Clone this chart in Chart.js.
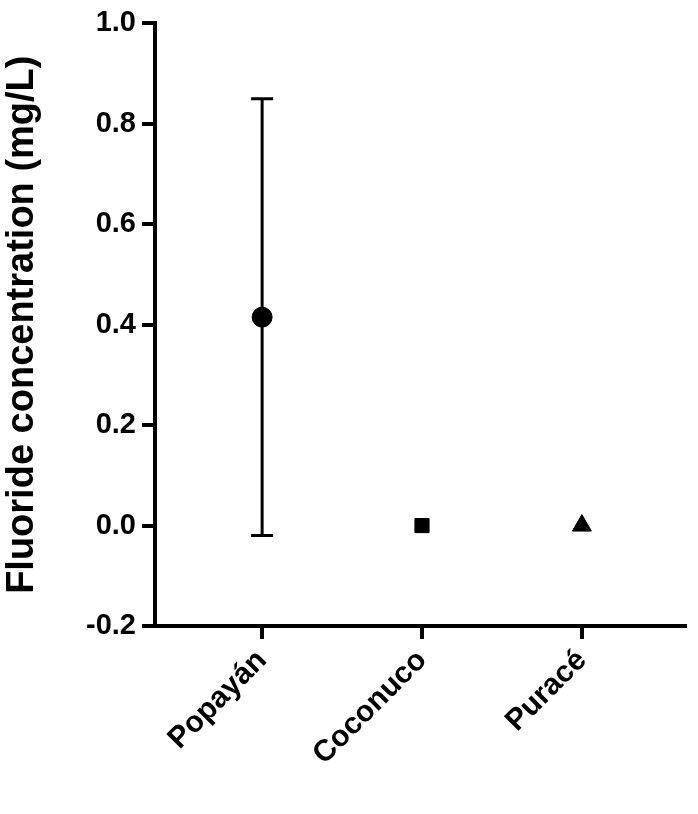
<!DOCTYPE html>
<html><head><meta charset="utf-8">
<script src="https://cdn.jsdelivr.net/npm/chart.js@4/dist/chart.umd.min.js"></script>
<style>html,body{margin:0;padding:0;background:#fff}#w{width:698px;height:814px}</style>
</head><body><div id="w"><canvas id="c"></canvas></div>
<script>
const categories = ["Popayán", "Coconuco", "Puracé"];
const means = [0.415, 0.0, 0.0];
const errLow = [-0.02, null, null];
const errHigh = [0.85, null, null];
const yTicks = [-0.2, 0.0, 0.2, 0.4, 0.6, 0.8, 1.0];
const styles = ["circle", "rect", "triangle"];

const errorBars = {
  id: 'errorBars',
  afterDatasetsDraw(chart) {
    const {ctx, scales: {x, y}} = chart;
    ctx.save();
    ctx.strokeStyle = '#000'; ctx.lineWidth = 3;
    means.forEach((m, i) => {
      if (errLow[i] == null) return;
      const px = x.getPixelForValue(i + 1);
      const yl = y.getPixelForValue(errLow[i]), yh = y.getPixelForValue(errHigh[i]);
      ctx.beginPath();
      ctx.moveTo(px, yl); ctx.lineTo(px, yh);
      ctx.moveTo(px - 11, yl); ctx.lineTo(px + 11, yl);
      ctx.moveTo(px - 11, yh); ctx.lineTo(px + 11, yh);
      ctx.stroke();
    });
    ctx.restore();
  }
};

const F = 'Liberation Sans, Arial, sans-serif';
new Chart(document.getElementById('c'), {
  type: 'scatter',
  data: { datasets: [{
    data: means.map((v, i) => ({x: i + 1, y: v})),
    pointStyle: styles, pointRadius: [10, 10, 11], backgroundColor: '#000', borderColor: '#000'
  }]},
  options: {
    responsive: true, maintainAspectRatio: false, animation: false,
    layout: {padding: {top: 18, right: 13, left: 0, bottom: 0}},
    plugins: {legend: {display: false}, tooltip: {enabled: false}},
    scales: {
      x: {
        type: 'linear', min: 0.33, max: 3.645,
        afterFit(s) { s.height = 188; },
        afterBuildTicks(s) { s.ticks = categories.map((c, i) => ({value: i + 1})); },
        grid: {drawOnChartArea: false, drawTicks: true, tickLength: 13, color: '#000', lineWidth: 4},
        border: {color: '#000', width: 4},
        ticks: {
          callback: (v) => categories[v - 1], color: '#000', maxRotation: 45, minRotation: 45, padding: 4,
          font: {family: F, size: 30, weight: 'bold'}
        }
      },
      y: {
        min: -0.2, max: 1.0,
        afterFit(s) { s.width = 155; },
        afterBuildTicks(s) { s.ticks = yTicks.map(v => ({value: v})); },
        grid: {drawOnChartArea: false, drawTicks: true, tickLength: 13, color: '#000', lineWidth: 4},
        border: {color: '#000', width: 4},
        ticks: {
          callback: (v) => v.toFixed(1), color: '#000', padding: 6,
          font: {family: F, size: 29, weight: 'bold'}
        },
        title: {display: true, text: 'Fluoride concentration (mg/L)', color: '#000',
          font: {family: F, size: 38, weight: 'bold'}, padding: {top: 0, bottom: 2}}
      }
    }
  },
  plugins: [errorBars]
});
</script></body></html>
